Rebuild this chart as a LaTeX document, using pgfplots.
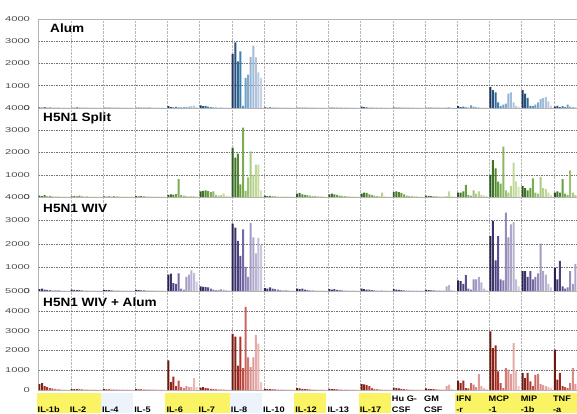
\documentclass[border=0pt]{standalone}
\usepackage{fontspec}
\setmainfont{Liberation Sans}
\newfontfamily\tickfont[FakeStretch=1.6]{Liberation Sans}
\newfontfamily\labfont[FakeStretch=1.15]{Liberation Sans}
\newfontfamily\titlefont[FakeStretch=1.13]{Liberation Sans}
\usepackage{pgfplots}
\usepackage{pgfplotstable}
\pgfplotsset{compat=1.18}

\definecolor{aD}{RGB}{30,55,95}\definecolor{aM}{RGB}{60,130,180}\definecolor{aL}{RGB}{200,210,228}
\definecolor{bD}{RGB}{45,90,30}\definecolor{bM}{RGB}{100,160,60}\definecolor{bL}{RGB}{215,228,175}
\definecolor{cD}{RGB}{40,35,80}\definecolor{cM}{RGB}{95,80,150}\definecolor{cL}{RGB}{205,200,222}
\definecolor{dD}{RGB}{110,25,15}\definecolor{dM}{RGB}{180,50,40}\definecolor{dL}{RGB}{240,195,195}
\definecolor{ylw}{RGB}{250,244,100}
\definecolor{lbl}{RGB}{236,243,250}

% rows: IL-1b IL-2 IL-4 IL-5 IL-6 IL-7 IL-8 IL-10 IL-12 IL-13 IL-17 HuG-CSF GM-CSF IFN-r MCP-1 MIP-1b TNF-a
\pgfplotstableread{
c0 c1 c2 c3 c4 c5 c6 c7 c8 c9 c10 c11
30 20 40 20 30 20 20 30 20 20 20 20
20 20 30 20 20 20 20 20 20 20 20 20
20 20 20 20 20 20 20 20 20 20 20 20
20 20 20 20 20 30 20 20 20 20 20 20
80 40 30 50 30 30 40 50 60 90 110 60
120 80 100 60 40 30 30 20 30 20 20 20
2430 2950 2100 2550 100 1350 1500 2300 2800 2270 1600 1350
30 20 30 20 20 20 20 20 20 20 20 20
20 20 20 20 20 20 20 20 20 20 20 20
20 20 20 20 20 20 20 20 20 20 20 20
60 40 30 20 20 20 20 20 20 20 20 20
30 20 20 20 20 20 20 20 20 20 20 20
20 20 20 20 20 20 20 20 30 40 20 20
80 40 60 30 20 120 60 40 30 20 20 20
950 800 700 250 100 150 200 650 700 250 100 50
800 650 450 100 80 150 250 400 450 500 300 100
60 100 40 80 40 150 60 40 30 20 20 20
}\tabA

\pgfplotstableread{
c0 c1 c2 c3 c4 c5 c6 c7 c8 c9 c10 c11
60 40 80 30 50 30 20 30 20 20 20 20
30 40 30 60 30 20 30 20 20 20 20 20
30 20 30 20 40 30 20 20 20 20 20 20
40 30 40 30 20 20 20 20 20 20 20 20
100 120 110 130 800 90 60 40 30 40 50 30
250 280 300 260 220 250 100 60 80 150 60 40
2220 1770 1950 570 3120 270 880 2050 1000 1460 1450 300
60 40 50 30 30 20 20 20 20 20 20 20
150 180 120 100 80 60 40 50 40 30 30 20
120 150 120 100 60 50 40 30 30 20 20 20
150 200 180 120 100 60 40 30 200 30 20 20
220 250 220 180 120 60 40 40 30 30 20 20
60 50 40 30 30 20 20 20 40 250 30 20
200 200 250 540 80 60 300 150 250 100 60 40
990 1660 1290 690 600 2260 300 200 500 1540 700 450
490 400 300 400 840 200 150 900 400 350 200 100
200 250 200 800 150 100 1200 200 100 100 100 100
}\tabB

\pgfplotstableread{
c0 c1 c2 c3 c4 c5 c6 c7 c8 c9 c10 c11
80 100 60 50 40 30 30 40 30 20 20 20
60 50 40 40 30 20 20 20 20 20 20 20
50 40 40 30 20 20 20 20 20 20 20 20
50 40 30 30 20 20 20 20 20 20 20 20
700 740 330 300 750 100 60 600 700 880 760 400
200 180 160 150 100 60 40 50 80 60 40 30
2870 2700 2130 1490 2620 1030 600 2900 2280 1600 2250 1960
120 100 150 100 80 60 40 30 50 30 20 20
100 80 100 60 40 30 30 20 20 20 20 20
80 60 80 50 40 30 20 20 20 20 20 20
100 80 60 60 40 30 20 20 30 20 20 20
80 60 50 40 30 20 20 20 20 20 20 20
50 40 30 30 20 20 20 20 200 250 40 20
450 420 300 680 100 60 500 500 600 370 100 50
2340 2980 1300 2340 500 450 3340 2280 2840 2930 500 200
850 850 600 850 500 600 750 2020 850 700 300 150
1000 500 1280 200 100 150 850 300 1150 200 100 100
}\tabC

\pgfplotstableread{
c0 c1 c2 c3 c4 c5 c6 c7 c8 c9 c10 c11
300 350 200 150 100 80 60 40 30 20 20 20
50 40 40 30 30 20 20 20 20 20 20 20
40 30 30 20 20 20 20 20 20 20 20 20
40 30 30 20 20 20 20 20 20 20 20 20
1500 400 670 200 480 150 100 200 150 150 600 150
120 150 100 80 60 40 40 30 30 30 20 20
2840 2690 1230 2690 1100 4200 1650 1150 1650 2780 2340 400
60 50 40 30 30 20 20 20 20 20 20 20
100 80 60 50 40 30 20 20 20 20 20 20
60 50 40 30 20 20 20 20 20 20 20 20
300 280 250 200 100 60 40 30 20 20 20 20
120 100 80 60 40 30 20 20 20 20 20 20
80 60 50 40 30 20 20 20 200 270 40 20
470 350 470 100 80 350 270 150 800 200 100 50
2960 2120 2260 940 350 100 1110 1030 800 2370 940 200
860 600 860 440 200 770 810 300 250 200 150 100
2040 520 860 200 150 100 350 1110 300 200 100 100
}\tabD

\tikzset{ptitle/.style={anchor=west, font=\titlefont\bfseries\fontsize{12}{14}\selectfont, inner sep=0pt}}
\pgfplotsset{
  panel/.style={
    scale only axis, width=538.5pt,
    xmin=0, xmax=16.72, ymin=0,
    xtick={0,...,16}, xticklabels={},
    major tick length=0pt,
    grid=major,
    x grid style={densely dotted, black!28, line width=0.4pt},
    y grid style={dash pattern=on 1.5pt off 1pt, black!55, line width=0.5pt},
    axis line style={black!30, line width=0.4pt},
    yticklabel style={font=\tickfont\fontsize{7}{8}\selectfont, text=black!70, xshift=-5pt},
    /pgf/number format/assume math mode=true,
    /pgf/number format/1000 sep={},
  },
  bstyle/.style={ybar, bar width=0.062, /pgf/bar shift=0pt, draw=none},
}

\newcommand{\panelbars}[2]{%
  \addplot[bstyle, fill=#2D] table[x expr=\coordindex+0.03, y=c0]{#1};
  \addplot[bstyle, fill=#2D!65!#2M] table[x expr=\coordindex+0.11, y=c1]{#1};
  \addplot[bstyle, fill=#2D!35!#2M] table[x expr=\coordindex+0.19, y=c2]{#1};
  \addplot[bstyle, fill=#2M] table[x expr=\coordindex+0.27, y=c3]{#1};
  \addplot[bstyle, fill=#2M!80!#2L] table[x expr=\coordindex+0.35, y=c4]{#1};
  \addplot[bstyle, fill=#2M!65!#2L] table[x expr=\coordindex+0.43, y=c5]{#1};
  \addplot[bstyle, fill=#2M!50!#2L] table[x expr=\coordindex+0.51, y=c6]{#1};
  \addplot[bstyle, fill=#2M!38!#2L] table[x expr=\coordindex+0.59, y=c7]{#1};
  \addplot[bstyle, fill=#2M!28!#2L] table[x expr=\coordindex+0.67, y=c8]{#1};
  \addplot[bstyle, fill=#2M!18!#2L] table[x expr=\coordindex+0.75, y=c9]{#1};
  \addplot[bstyle, fill=#2M!10!#2L] table[x expr=\coordindex+0.83, y=c10]{#1};
  \addplot[bstyle, fill=#2L] table[x expr=\coordindex+0.91, y=c11]{#1};
}

\begin{document}
\begin{tikzpicture}
\useasboundingbox (0pt,0pt) rectangle (577pt,413pt);

% label band backgrounds
\foreach \k in {0,1,4,5,8,10,13,14,15,16}{
  \pgfmathsetmacro\xa{38.5+32.2*\k-2}
  \pgfmathsetmacro\xb{38.5+32.2*(\k+1)-2}
  \fill[ylw] (\xa pt,0pt) rectangle (\xb pt,20pt);
}
\foreach \k in {2,6}{
  \pgfmathsetmacro\xa{38.5+32.2*\k-2}
  \pgfmathsetmacro\xb{38.5+32.2*(\k+1)-2}
  \fill[lbl] (\xa pt,0pt) rectangle (\xb pt,20pt);
}

% Panel 1: Alum
\begin{axis}[panel, at={(38.5pt,305pt)}, anchor=south west, height=89pt,
  ymax=4000, ytick={0,1000,2000,3000,4000}]
\panelbars{\tabA}{a}
\node[ptitle] at (rel axis cs:0.0214,0.899) {Alum};
\end{axis}

% Panel 2: H5N1 Split
\begin{axis}[panel, at={(38.5pt,216pt)}, anchor=south west, height=89pt,
  ymax=4000, ytick={0,1000,2000,3000,4000}]
\panelbars{\tabB}{b}
\node[ptitle] at (rel axis cs:0.0084,0.888) {H5N1 Split};
\end{axis}

% Panel 3: H5N1 WIV
\begin{axis}[panel, at={(38.5pt,122pt)}, anchor=south west, height=94pt,
  ymax=4000, ytick={0,1000,2000,3000,4000}]
\panelbars{\tabC}{c}
\node[ptitle] at (rel axis cs:0.0084,0.883) {H5N1 WIV};
\end{axis}

% Panel 4: H5N1 WIV + Alum
\begin{axis}[panel, at={(38.5pt,23pt)}, anchor=south west, height=99pt,
  ymax=5000, ytick={0,1000,2000,3000,4000,5000},
  xticklabels={{\strut\\IL-1b},{\strut\\IL-2},{\strut\\IL-4},{\strut\\IL-5},{\strut\\IL-6},{\strut\\IL-7},{\strut\\IL-8},{\strut\\IL-10},{\strut\\IL-12},{\strut\\IL-13},{\strut\\IL-17},{\strut Hu G-\\CSF},{\strut GM\\CSF},{\strut IFN\\-r},{\strut MCP\\-1},{\strut MIP\\-1b},{\strut TNF\\-a}},
  xticklabel style={anchor=north west, align=left, inner sep=0pt, xshift=-1pt, yshift=-3pt,
    font=\labfont\bfseries\fontsize{8}{11.5}\selectfont, text=black}]
\panelbars{\tabD}{d}
\node[ptitle] at (rel axis cs:0.0084,0.884) {H5N1 WIV + Alum};
\end{axis}
\end{tikzpicture}
\end{document}
